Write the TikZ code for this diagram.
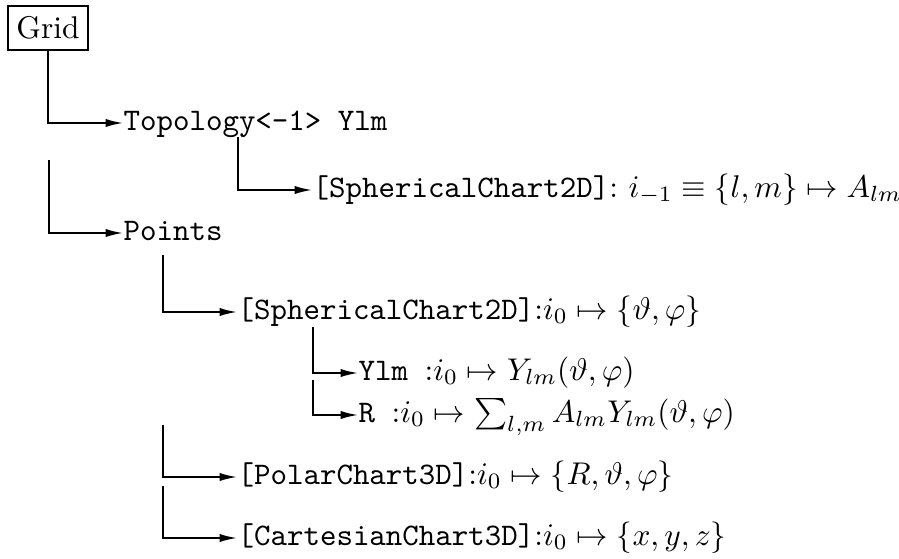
\documentclass[tikz,border=0pt]{standalone}
\usetikzlibrary{arrows.meta}
\begin{document}
\begin{tikzpicture}[x=0.3185pt,y=-0.3185pt,
  conn/.style={line width=0.55pt,-{Latex[length=5.5pt,width=2.6pt]}},
  leaf/.style={anchor=west,inner sep=0pt,text height=6.5pt,text depth=2pt},
  rootbox/.style={draw,line width=0.55pt,inner xsep=2.6pt,inner ysep=3.3pt}]
\useasboundingbox (0,0) rectangle (899,558);
\node[rootbox] (grid) at (48,28) {Grid};
\node[leaf] (topo) at (123,123) {\texttt{Topology<-1> Ylm}};
\node[leaf] (sphA) at (312,190) {\texttt{[SphericalChart2D]}: $i_{-1}\equiv\{l,m\}\mapsto A_{lm}$};
\node[leaf] (points) at (123,233) {\texttt{Points}};
\node[leaf] (sphB) at (237,312) {\texttt{[SphericalChart2D]}:$i_0\mapsto\{\vartheta,\varphi\}$};
\node[leaf] (ylm) at (358,373) {\texttt{Ylm }:$i_0\mapsto Y_{lm}(\vartheta,\varphi)$};
\node[leaf] (rr) at (358,415) {\texttt{R }:$i_0\mapsto \sum_{l,m}A_{lm}Y_{lm}(\vartheta,\varphi)$};
\node[leaf] (polar) at (237,477) {\texttt{[PolarChart3D]}:$i_0\mapsto\{R,\vartheta,\varphi\}$};
\node[leaf] (cart) at (237,538) {\texttt{[CartesianChart3D]}:$i_0\mapsto\{x,y,z\}$};
\coordinate (c2) at (49,160);
\coordinate (c3) at (238,137);
\coordinate (c4) at (163,255);
\coordinate (c5) at (313,327);
\coordinate (c6) at (313,380);
\coordinate (c7) at (163,425);
\coordinate (c8) at (163,486);
\draw[conn] (grid.south) |- (topo.west);
\draw[conn] (c2) |- (points.west);
\draw[conn] (c3) |- (sphA.west);
\draw[conn] (c4) |- (sphB.west);
\draw[conn] (c5) |- (ylm.west);
\draw[conn] (c6) |- (rr.west);
\draw[conn] (c7) |- (polar.west);
\draw[conn] (c8) |- (cart.west);
\end{tikzpicture}
\end{document}
